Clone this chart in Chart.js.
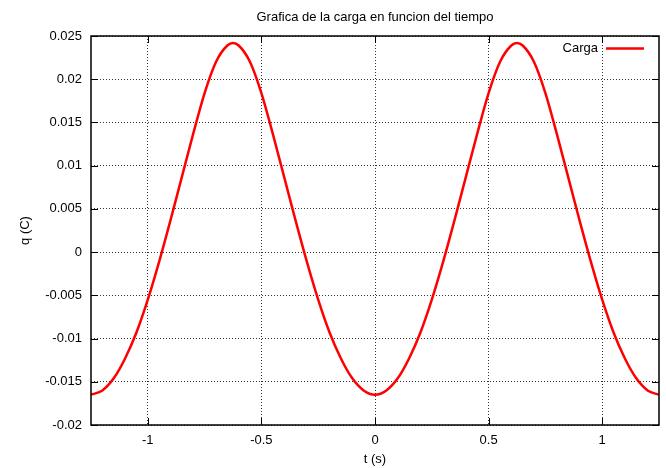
<!DOCTYPE html>
<html>
<head>
<meta charset="utf-8">
<title>Carga</title>
<script src="https://cdn.jsdelivr.net/npm/chart.js@4/dist/chart.umd.min.js"></script>
<style>
  html, body { margin: 0; padding: 0; background: #fff; }
  #wrap { width: 666px; height: 468px; }
</style>
</head>
<body>
<div id="wrap"><canvas id="chart"></canvas></div>
<script>
// t (s) and q (C)
const tiempo = [
  -1.25, -1.2, -1.15, -1.1, -1.05, -1.0, -0.95, -0.9, -0.85, -0.8, -0.75, -0.7, -0.65, -0.625,
  -0.6, -0.55, -0.5, -0.45, -0.4, -0.35, -0.3, -0.25, -0.2, -0.15, -0.1, -0.05, 0,
  0.05, 0.1, 0.15, 0.2, 0.25, 0.3, 0.35, 0.4, 0.45, 0.5, 0.55, 0.6, 0.625,
  0.65, 0.7, 0.75, 0.8, 0.85, 0.9, 0.95, 1.0, 1.05, 1.1, 1.15, 1.2, 1.25
];
const carga = [
  -0.0165, -0.0160, -0.0146, -0.0123, -0.0093, -0.0055, -0.0011, 0.0037, 0.0087, 0.0137, 0.0184, 0.0220, 0.0239, 0.0242,
  0.0239, 0.0220, 0.0184, 0.0137, 0.0087, 0.0037, -0.0011, -0.0055, -0.0093, -0.0123, -0.0146, -0.0160, -0.0165,
  -0.0160, -0.0146, -0.0123, -0.0093, -0.0055, -0.0011, 0.0037, 0.0087, 0.0137, 0.0184, 0.0220, 0.0239, 0.0242,
  0.0239, 0.0220, 0.0184, 0.0137, 0.0087, 0.0037, -0.0011, -0.0055, -0.0093, -0.0123, -0.0146, -0.0160, -0.0165
];
const xTicks = [-1, -0.5, 0, 0.5, 1];
const yTicks = [-0.02, -0.015, -0.01, -0.005, 0, 0.005, 0.01, 0.015, 0.02, 0.025];

const titulo = 'Grafica de la carga en funcion del tiempo';
const ejeX = 't (s)';
const ejeY = 'q (C)';

const FAMILY = '"Liberation Sans", Arial, sans-serif';
const FONT = '13px ' + FAMILY;

// frame, inward ticks, title, axis labels and key, drawn gnuplot style
const marco = {
  id: 'marco',
  afterDatasetsDraw(chart) {
    const { ctx, chartArea: a, scales } = chart;
    const tick = 7;
    ctx.save();
    ctx.strokeStyle = '#000';
    ctx.lineWidth = 1;
    ctx.beginPath();
    xTicks.forEach(v => {
      const x = Math.round(scales.x.getPixelForValue(v)) + 0.5;
      ctx.moveTo(x, a.bottom); ctx.lineTo(x, a.bottom - tick);
      ctx.moveTo(x, a.top); ctx.lineTo(x, a.top + tick);
    });
    yTicks.forEach(v => {
      const y = Math.round(scales.y.getPixelForValue(v)) + 0.5;
      ctx.moveTo(a.left, y); ctx.lineTo(a.left + tick, y);
      ctx.moveTo(a.right, y); ctx.lineTo(a.right - tick, y);
    });
    ctx.stroke();
    ctx.lineWidth = 1.5;
    ctx.strokeRect(a.left, a.top, a.right - a.left, a.bottom - a.top);

    ctx.fillStyle = '#000';
    ctx.font = FONT;
    ctx.textBaseline = 'middle';
    ctx.textAlign = 'center';
    ctx.fillText(titulo, (a.left + a.right) / 2, 17);
    ctx.fillText(ejeX, (a.left + a.right) / 2, 459);
    ctx.save();
    ctx.translate(25, (a.top + a.bottom) / 2);
    ctx.rotate(-Math.PI / 2);
    ctx.fillText(ejeY, 0, 0);
    ctx.restore();

    // key
    const ds = chart.data.datasets[0];
    ctx.textAlign = 'right';
    ctx.fillText(ds.label, 598, 48);
    ctx.strokeStyle = ds.borderColor;
    ctx.lineWidth = ds.borderWidth;
    ctx.beginPath();
    ctx.moveTo(606, 48.5);
    ctx.lineTo(644, 48.5);
    ctx.stroke();
    ctx.restore();
  }
};

const puntos = tiempo.map((t, i) => ({ x: t, y: carga[i] }));

const rejilla = { color: 'rgba(0,0,0,0.8)', lineWidth: 1, drawTicks: false };
const borde = { display: false, dash: [1, 2] };

new Chart(document.getElementById('chart'), {
  type: 'line',
  data: {
    datasets: [{
      label: 'Carga',
      data: puntos,
      borderColor: '#ff0000',
      borderWidth: 2.5,
      pointRadius: 0,
      fill: false,
      cubicInterpolationMode: 'monotone'
    }]
  },
  options: {
    responsive: true,
    maintainAspectRatio: false,
    animation: false,
    layout: { padding: { left: 0, right: 7, top: 36, bottom: 0 } },
    plugins: {
      legend: { display: false },
      title: { display: false },
      tooltip: { enabled: false }
    },
    scales: {
      x: {
        type: 'linear',
        min: -1.25,
        max: 1.25,
        afterFit(scale) { scale.height = 43; },
        afterBuildTicks(scale) { scale.ticks = xTicks.map(v => ({ value: v })); },
        border: borde,
        grid: rejilla,
        ticks: {
          color: '#000',
          padding: 8,
          font: { family: FAMILY, size: 13 },
          callback: v => String(v)
        }
      },
      y: {
        type: 'linear',
        min: -0.02,
        max: 0.025,
        afterFit(scale) { scale.width = 91; },
        afterBuildTicks(scale) { scale.ticks = yTicks.map(v => ({ value: v })); },
        border: borde,
        grid: rejilla,
        ticks: {
          color: '#000',
          padding: 9,
          font: { family: FAMILY, size: 13 },
          callback: v => String(parseFloat(v.toFixed(3)))
        }
      }
    }
  },
  plugins: [marco]
});
</script>
</body>
</html>
